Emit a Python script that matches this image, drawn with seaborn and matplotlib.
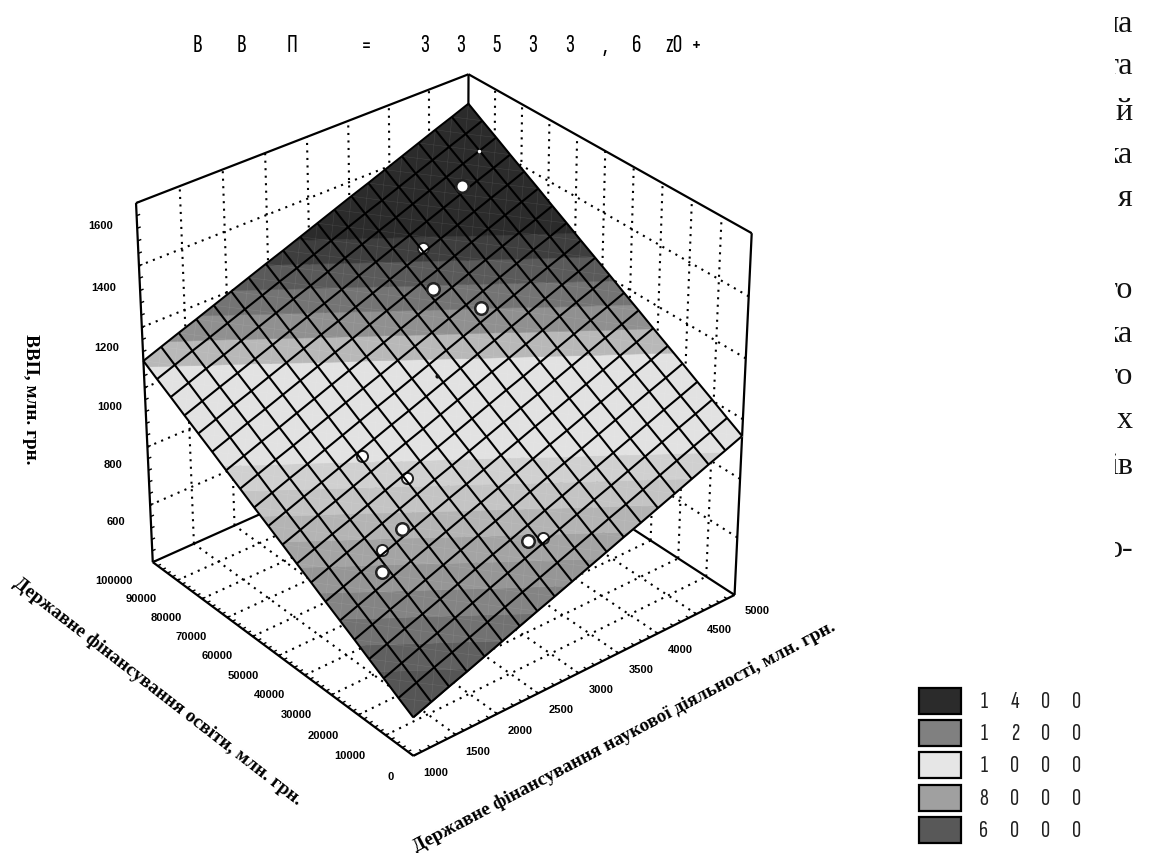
import numpy as np
import matplotlib
matplotlib.use('Agg')
import matplotlib.pyplot as plt
import seaborn as sns
from contourpy import contour_generator
from matplotlib.patches import Rectangle
from matplotlib.transforms import Bbox
from mpl_toolkits.mplot3d.art3d import Line3DCollection, Poly3DCollection

science_nodes = [1000,1211,1421,1632,1842,2053,2263,2474,2684,2895,3105,3316,3526,3737,3947,4158,4368,4579,4789,5000]
edu_nodes = [0,5263,10526,15789,21053,26316,31579,36842,42105,47368,52632,57895,63158,68421,73684,78947,84211,89474,94737,100000]
# surface heights, one row per edu node
z_table = [
    [530,552,574,595,617,639,661,683,704,726,748,770,792,813,835,857,879,901,922,944],
    [559,581,603,624,646,668,690,712,733,755,777,799,821,842,864,886,908,930,951,973],
    [589,611,633,654,676,698,720,742,763,785,807,829,851,872,894,916,938,960,981,1003],
    [618,640,662,683,705,727,749,771,792,814,836,858,880,901,923,945,967,989,1010,1032],
    [648,670,692,713,735,757,779,801,822,844,866,888,910,931,953,975,997,1019,1040,1062],
    [677,699,721,742,764,786,808,830,851,873,895,917,939,960,982,1004,1026,1048,1069,1091],
    [706,728,750,771,793,815,837,859,880,902,924,946,968,989,1011,1033,1055,1077,1098,1120],
    [736,758,780,801,823,845,867,889,910,932,954,976,998,1019,1041,1063,1085,1107,1128,1150],
    [765,787,809,830,852,874,896,918,939,961,983,1005,1027,1048,1070,1092,1114,1136,1157,1179],
    [795,817,839,860,882,904,926,948,969,991,1013,1035,1057,1078,1100,1122,1144,1166,1187,1209],
    [824,846,868,889,911,933,955,977,998,1020,1042,1064,1086,1107,1129,1151,1173,1195,1216,1238],
    [853,875,897,918,940,962,984,1006,1027,1049,1071,1093,1115,1136,1158,1180,1202,1224,1245,1267],
    [883,905,927,948,970,992,1014,1036,1057,1079,1101,1123,1145,1166,1188,1210,1232,1254,1275,1297],
    [912,934,956,977,999,1021,1043,1065,1086,1108,1130,1152,1174,1195,1217,1239,1261,1283,1304,1326],
    [942,964,986,1007,1029,1051,1073,1095,1116,1138,1160,1182,1204,1225,1247,1269,1291,1313,1334,1356],
    [971,993,1015,1036,1058,1080,1102,1124,1145,1167,1189,1211,1233,1254,1276,1298,1320,1342,1363,1385],
    [1000,1022,1044,1065,1087,1109,1131,1153,1174,1196,1218,1240,1262,1283,1305,1327,1349,1371,1392,1414],
    [1030,1052,1074,1095,1117,1139,1161,1183,1204,1226,1248,1270,1292,1313,1335,1357,1379,1401,1422,1444],
    [1059,1081,1103,1124,1146,1168,1190,1212,1233,1255,1277,1299,1321,1342,1364,1386,1408,1430,1451,1473],
    [1089,1111,1133,1154,1176,1198,1220,1242,1263,1285,1307,1329,1351,1372,1394,1416,1438,1460,1481,1503],
]

science_ticks = [1000,1500,2000,2500,3000,3500,4000,4500,5000]
edu_ticks = [0,10000,20000,30000,40000,50000,60000,70000,80000,90000,100000]
z_ticks = [400,600,800,1000,1200,1400,1600]
z_tick_labels = ['','600','800','1000','1200','1400','1600']

# observations in front of the grid lines
science_front = [4451,3600,3847,1972,1586,2823]
edu_front = [86013,71374,60897,33552,29069,13538]
gdp_front = [1359,1189,1156,809,743,784]
# observations the grid lines run over
science_back = [3773,2093,2298,1709,2950]
edu_back = [80333,51919,41622,32812,11902]
gdp_back = [1257,924,887,777,788]
# the two specks that barely show through
science_speck = [3112,4800]
edu_speck = [55176,90012]
gdp_speck = [1048,1417]

band_edges = [400,600,640,680,720,760,800,840,880,920,1080,1120,1160,1200,1240,1280,1700]
band_greys = ['#555555','#606060','#727272','#848484','#969696','#a4a4a4','#b4b4b4','#c4c4c4','#d0d0d0','#e2e2e2',
              '#b8b8b8','#909090','#747474','#5a5a5a','#3e3e3e','#2b2b2b']

legend_labels = ['1400','1200','1000','8000','6000']
legend_greys = ['#2b2b2b','#808080','#e6e6e6','#a0a0a0','#585858']

title_text = ['В','В','П','=','3','3','5','3','3',',','6','z0','+']
title_x = [197,241,292,366,425,461,497,533,570,605,637,674,696]

text_pieces = ['на','та','й','ка','я','го','ка','го','х','ів','о-']
text_base = [32,74,120,163,206,298,342,384,428,474,557]

sns.set_theme(style='white')

fig = plt.figure(figsize=(11.5,8.54),dpi=100)
ax = fig.add_axes([74.5/1150,82.25/854,715.5/1150,715.5/854],projection='3d',computed_zorder=False)
ax.set_xlim(1000,5000)
ax.set_ylim(0,100000)
ax.set_zlim(400,1600)
ax.set_box_aspect((1.374,1.383,1.383))
ax.view_init(elev=32.38,azim=-129.56)
ax.set_proj_type('persp',focal_length=1.0434)
ax.set_axis_off()


def lines(segs,**kw):
    ax.add_collection3d(Line3DCollection(segs,**kw))


x0,x1,y0,y1,z0,z1 = 1000,5000,0,100000,400,1600
# dotted walls and floor
segs = []
for x in science_ticks[1:-1]:
    segs.append([(x,y0,z0),(x,y1,z0)])
    segs.append([(x,y1,z0),(x,y1,z1)])
for y in edu_ticks[1:-1]:
    segs.append([(x0,y,z0),(x1,y,z0)])
    segs.append([(x1,y,z0),(x1,y,z1)])
for z in z_ticks[1:-1]:
    segs.append([(x0,y1,z),(x1,y1,z)])
    segs.append([(x1,y0,z),(x1,y1,z)])
lines(segs,colors='black',linewidths=1.5,linestyles=[(0,(1,2.6))],zorder=1)

# box edges
box = [[(x0,y1,z0),(x0,y1,z1)],[(x0,y1,z1),(x1,y1,z1)],[(x1,y1,z1),(x1,y0,z1)],[(x1,y0,z1),(x1,y0,z0)],
       [(x1,y1,z0),(x1,y1,z1)],[(x0,y1,z0),(x1,y1,z0)],[(x1,y1,z0),(x1,y0,z0)],[(x0,y1,z0),(x0,y0,z0)],[(x0,y0,z0),(x1,y0,z0)]]
lines(box,colors='black',linewidths=1.6,zorder=2)

# little ticks on the axes
tk = []
for x in np.arange(x0,x1+1,100):
    tk.append([(x,y0,z0),(x,y0+1000,z0)])
for y in np.arange(y0,y1+1,2000):
    tk.append([(x0,y,z0),(x0+40,y,z0)])
for z in np.arange(z0,z1+1,40):
    tk.append([(x0,y1,z),(x0+40,y1,z)])
lines(tk,colors='black',linewidths=1.0,zorder=2)


def height_at(x,y):
    cols = [np.interp(x,science_nodes,row) for row in z_table]
    return np.interp(y,edu_nodes,cols)


# filled bands of the surface
Xg,Yg = np.meshgrid(science_nodes,edu_nodes)
Zg = np.array(z_table,dtype=float)
gen = contour_generator(Xg,Yg,Zg)
greys = sns.color_palette(band_greys,len(band_greys))
for lo,hi,grey in zip(band_edges[:-1],band_edges[1:],greys):
    polys = gen.filled(lo,hi)[0]
    verts = [[(px,py,height_at(px,py)) for px,py in poly] for poly in polys]
    if verts:
        ax.add_collection3d(Poly3DCollection(verts,facecolors=[grey],edgecolors=[grey],linewidths=0.4,zorder=3))

# faint seams across the cells
diag = []
for i in range(19):
    for j in range(19):
        diag.append([(Xg[i,j],Yg[i,j],Zg[i,j]),(Xg[i+1,j+1],Yg[i+1,j+1],Zg[i+1,j+1])])
        diag.append([(Xg[i+1,j],Yg[i+1,j],Zg[i+1,j]),(Xg[i,j+1],Yg[i,j+1],Zg[i,j+1])])
lines(diag,colors='white',linewidths=0.35,alpha=0.12,zorder=4)

ax.plot(science_back,edu_back,gdp_back,'o',ms=8,mfc='white',mec='#222222',mew=1.4,zorder=5)
ax.plot_wireframe(Xg,Yg,Zg,color='black',linewidth=1.5,rstride=1,cstride=1,zorder=6)
ax.plot(science_front,edu_front,gdp_front,'o',ms=9,mfc='white',mec='#222222',mew=1.8,zorder=7)
ax.plot(science_speck[:1],edu_speck[:1],gdp_speck[:1],'o',ms=3,mfc='#111111',mec='#111111',mew=0,zorder=7)
ax.plot(science_speck[1:],edu_speck[1:],gdp_speck[1:],'o',ms=2.5,mfc='white',mec='white',mew=0,zorder=7)

# tick labels
kw = dict(fontsize=8,fontweight='bold',family='Liberation Sans',color='black',va='center',rotation_mode='anchor')
for y in edu_ticks:
    ax.text(x0-330,y-3000,z0,str(y),rotation=30,ha='right',**kw)
for x in science_ticks:
    ax.text(x,y0-8000,z0,str(x),rotation=-30,ha='center',**kw)
for z,s in zip(z_ticks,z_tick_labels):
    ax.text(x0,y1+15000,z-150,s,rotation=28,ha='center',**kw)


def ftext(x,y,s,**k):
    return fig.text(x/1150,1-y/854,s,**k)


serif = dict(family='Liberation Serif',fontweight='bold',color='black',ha='center',va='center',rotation_mode='anchor',fontsize=13.9)
ftext(30,399,'ВВП, млн. грн.',rotation=-90,**serif)
ftext(158,691,'Державне фінансування освіти, млн. грн.',rotation=-37.8,**serif)
ftext(624,737,'Державне фінансування наукової діяльності, млн. грн.',rotation=27.9,**serif)

narrow = ['Sofia Sans Extra Condensed','DejaVu Sans']
for s,x in zip(title_text,title_x):
    ftext(x,46,s,family=narrow,fontsize=19,color='black',ha='center',va='center')

# legend
for k,(lab,g) in enumerate(zip(legend_labels,legend_greys)):
    top = 689+k*32.2
    fig.patches.append(Rectangle((919/1150,1-(top+26)/854),42/1150,26/854,transform=fig.transFigure,
                                 facecolor=g,edgecolor='black',linewidth=1.6))
    for m,ch in enumerate(lab):
        ftext(984+31*m,top+13,ch,family=narrow,fontsize=18,color='#222222',ha='center',va='center')

# body text cut by the crop on the right
for s,y in zip(text_pieces,text_base):
    t = ftext(1133,y,s,family='Liberation Serif',fontsize=23,color='#111111',ha='right',va='baseline')
    t.set_clip_box(Bbox([[1115,0],[1150,854]]))
    t.set_clip_on(True)

fig.savefig('out.png',dpi=100)
